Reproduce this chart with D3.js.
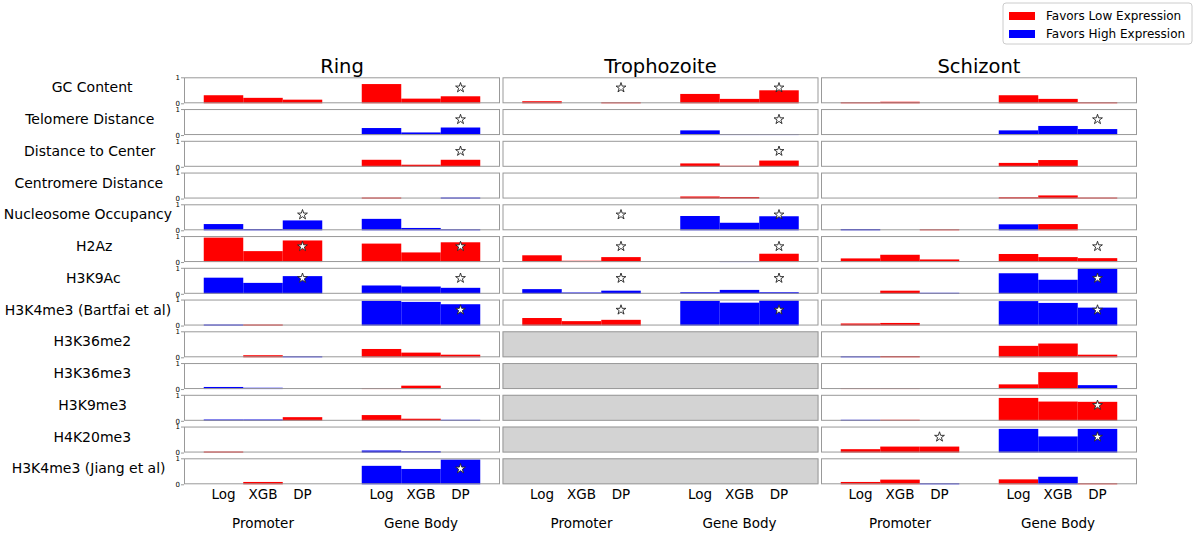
<!DOCTYPE html>
<html>
<head>
<meta charset="utf-8">
<script src="https://cdn.jsdelivr.net/npm/d3@7"></script>
<style>
  body { margin: 0; background: #fff; }
  text { font-family: "DejaVu Sans", sans-serif; fill: #000; }
</style>
</head>
<body>
<div id="chart"></div>
<script>
// features (rows) and stages (columns)
const features = ["GC Content", "Telomere Distance", "Distance to Center", "Centromere Distance",
  "Nucleosome Occupancy", "H2Az", "H3K9Ac", "H3K4me3 (Bartfai et al)", "H3K36me2",
  "H3K36me3", "H3K9me3", "H4K20me3", "H3K4me3 (Jiang et al)"];
const stages = ["Ring", "Trophozoite", "Schizont"];
const methods = ["Log", "XGB", "DP"];
const regions = ["Promoter", "Gene Body"];

// values per row: promoter Log/XGB/DP, gene body Log/XGB/DP
// + favors low expression (red), - favors high expression (blue), null = no data
const ringVals = [
  [0.31, 0.21, 0.14, 0.74, 0.18, 0.27],
  [0, 0, 0, -0.27, -0.10, -0.29],
  [0, 0, 0, 0.27, 0.08, 0.27],
  [0, 0, 0, 0.01, 0, -0.01],
  [-0.24, -0.05, -0.38, -0.44, -0.09, -0.04],
  [0.94, 0.42, 0.83, 0.71, 0.37, 0.76],
  [-0.62, -0.42, -0.68, -0.32, -0.28, -0.23],
  [-0.03, 0.03, 0, -0.95, -0.91, -0.82],
  [0, 0.08, -0.04, 0.32, 0.18, 0.10],
  [-0.08, -0.05, 0, 0.01, 0.13, 0],
  [-0.05, -0.05, 0.14, 0.22, 0.08, -0.01],
  [0.01, 0, 0, -0.08, -0.05, 0],
  [0, 0.09, 0, -0.71, -0.59, -0.95]
];
const trophVals = [
  [0.08, 0, 0.02, 0.36, 0.17, 0.50],
  [0, 0, 0, -0.18, -0.03, -0.02],
  [0, 0, 0, 0.13, 0.04, 0.24],
  [0, 0, 0, 0.08, 0.06, 0],
  [0, 0, 0, -0.55, -0.29, -0.54],
  [0.26, 0.05, 0.19, 0, -0.04, 0.32],
  [-0.18, -0.05, -0.12, -0.06, -0.15, -0.06],
  [0.29, 0.17, 0.22, -0.95, -0.88, -0.96],
  null, null, null, null, null
];
const schizVals = [
  [0.04, 0.06, 0, 0.31, 0.17, 0.04],
  [0, 0, 0, -0.18, -0.35, -0.23],
  [0, 0, 0, 0.15, 0.26, 0],
  [0, 0, 0, 0.05, 0.12, 0.01],
  [-0.05, 0, 0.01, -0.23, 0.24, 0],
  [0.14, 0.28, 0.10, 0.31, 0.19, 0.15],
  [0, 0.12, -0.03, -0.79, -0.54, -0.96],
  [0.08, 0.10, 0, -0.94, -0.87, -0.69],
  [-0.03, 0.05, 0, 0.44, 0.53, 0.10],
  [0.04, 0.01, 0, 0.18, 0.65, -0.15],
  [-0.01, 0.04, 0, 0.88, 0.74, 0.73],
  [0.13, 0.23, 0.23, -0.91, -0.62, -0.91],
  [0.09, 0.18, -0.04, 0.19, -0.29, 0.03]
];

// significance stars: P = promoter, G = gene body
const ringStars = ["G", "G", "G", "", "P", "PG", "PG", "G", "", "", "", "", "G"];
const trophStars = ["PG", "G", "G", "", "PG", "PG", "PG", "PG", "", "", "", "", ""];
const schizStars = ["", "G", "", "", "", "G", "G", "G", "", "", "G", "PG", ""];

const legendLabels = ["Favors Low Expression", "Favors High Expression"];
const yTicks = [0, 1];

const allVals = [ringVals, trophVals, schizVals];
const allStars = [ringStars, trophStars, schizStars];

const W = 1195, H = 536;
const red = "#ff0000", blue = "#0000ff";

const svg = d3.select("#chart").append("svg")
  .attr("width", W).attr("height", H);

const panelW = 316, rowH = 26, rowPitch = 31.75, top0 = 77.3;
const colX = d3.scaleLinear().domain([0, 2]).range([184, 821]);
const x = d3.scaleLinear().domain([-1, 7]).range([0, panelW]);
const y = d3.scaleLinear().domain([0, 1]).range([rowH, 0]);
const pos = [0, 1, 2, 4, 5, 6];

// stage titles
stages.forEach((s, c) => {
  svg.append("text")
    .attr("x", colX(c) + panelW / 2).attr("y", 73)
    .attr("text-anchor", "middle")
    .style("font-size", "19.5px")
    .text(s);
});

// row labels (wider labels sit a little further left)
features.forEach((f, r) => {
  const t = svg.append("text")
    .attr("y", top0 + r * rowPitch + rowH / 2 + 2)
    .attr("text-anchor", "middle")
    .style("font-size", "14px")
    .text(f);
  const w = t.node().getComputedTextLength();
  t.attr("x", 96 - 0.048 * w);
});

stages.forEach((s, c) => {
  features.forEach((f, r) => {
    const g = svg.append("g")
      .attr("transform", `translate(${colX(c)},${top0 + r * rowPitch})`);
    const vals = allVals[c][r];

    g.append("rect")
      .attr("x", 0).attr("y", 0)
      .attr("width", panelW).attr("height", rowH)
      .attr("fill", vals === null ? "#d3d3d3" : "#fff");

    if (vals !== null) {
      g.selectAll("rect.bar")
        .data(vals.map((v, i) => ({v, p: pos[i]})).filter(d => d.v !== 0))
        .join("rect")
        .attr("class", "bar")
        .attr("x", d => x(d.p - 0.5))
        .attr("width", d => x(d.p + 0.5) - x(d.p - 0.5))
        .attr("y", d => Math.min(y(Math.abs(d.v)), rowH - 1))
        .attr("height", d => Math.max(rowH - y(Math.abs(d.v)), 1))
        .attr("fill", d => d.v > 0 ? red : blue);

      const st = allStars[c][r];
      const starPos = [];
      if (st.includes("P")) starPos.push(2);
      if (st.includes("G")) starPos.push(6);
      g.selectAll("path.star")
        .data(starPos)
        .join("path")
        .attr("class", "star")
        .attr("transform", d => `translate(${x(d)},${y(0.6)})`)
        .attr("d", d3.symbol(d3.symbolStar, 30))
        .attr("fill", "#fff")
        .attr("stroke", "#222")
        .attr("stroke-width", 0.9);
    }

    g.append("rect")
      .attr("x", 0.5).attr("y", 0.5)
      .attr("width", panelW - 1).attr("height", rowH - 1)
      .attr("fill", "none")
      .attr("stroke", "#999")
      .attr("stroke-width", 1);

    if (c === 0) {
      const ax = d3.axisLeft(y).tickValues(yTicks).tickFormat(d3.format("d")).tickSize(3).tickPadding(1);
      const a = g.append("g").call(ax);
      a.select(".domain").remove();
      a.selectAll("line").attr("stroke", "#999");
      a.selectAll("text").style("font-size", "7px");
    }
  });
});

// x tick labels and region labels
stages.forEach((s, c) => {
  const baseY = top0 + 12 * rowPitch + rowH;
  const g = svg.append("g").attr("transform", `translate(${colX(c)},0)`);
  pos.forEach((p, i) => {
    g.append("text")
      .attr("x", x(p)).attr("y", baseY + 15)
      .attr("text-anchor", "middle")
      .style("font-size", "13.5px")
      .text(methods[i % 3]);
  });
  regions.forEach((rg, i) => {
    g.append("text")
      .attr("x", x(i * 4 + 1)).attr("y", baseY + 44)
      .attr("text-anchor", "middle")
      .style("font-size", "13.5px")
      .text(rg);
  });
});

// legend
const lg = svg.append("g").attr("transform", "translate(1003,3)");
lg.append("rect")
  .attr("width", 189).attr("height", 41).attr("rx", 3)
  .attr("fill", "#fff").attr("stroke", "#ccc");
legendLabels.forEach((l, i) => {
  lg.append("rect")
    .attr("x", 6).attr("y", 9 + i * 18)
    .attr("width", 26).attr("height", 8)
    .attr("fill", i === 0 ? red : blue);
  lg.append("text")
    .attr("x", 43).attr("y", 17 + i * 18)
    .style("font-size", "12px")
    .text(l);
});
</script>
</body>
</html>
